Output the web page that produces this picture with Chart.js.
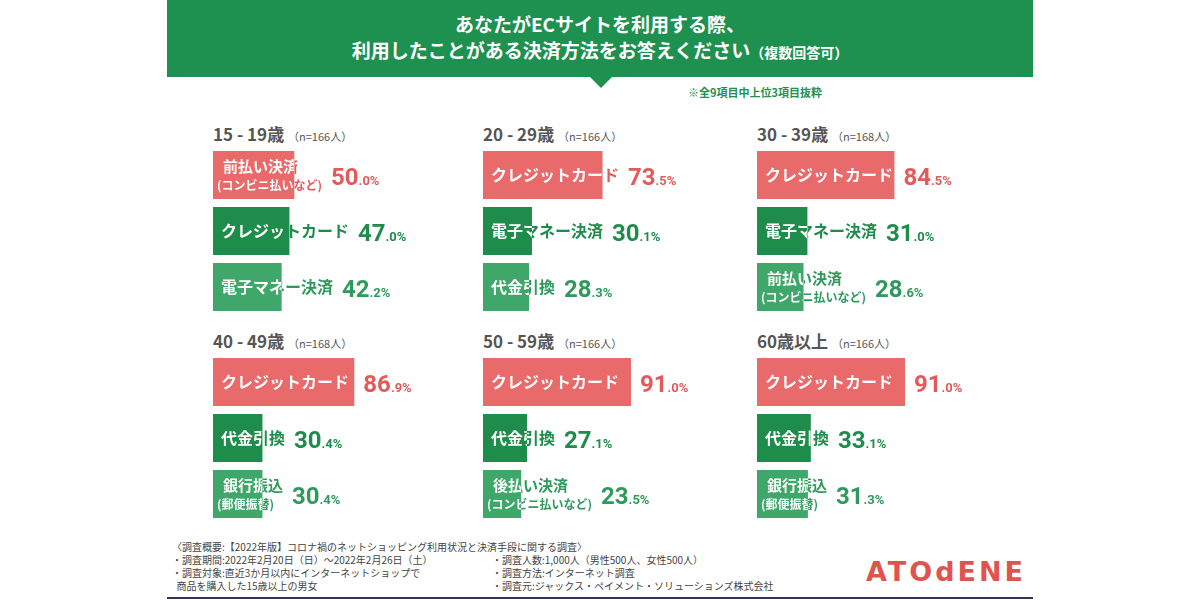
<!DOCTYPE html>
<html><head><meta charset="utf-8">
<script src="https://cdn.jsdelivr.net/npm/chart.js@4/dist/chart.umd.min.js"></script>
<style>
body{margin:0;width:1200px;height:600px;background:#fff;font-family:"Noto Sans CJK JP","Noto Sans",sans-serif;position:relative;overflow:hidden}
.head{position:absolute;left:167px;top:0;width:866px;height:77px;background:#1e9150;color:#fff;text-align:center;font-weight:bold;font-size:19px;line-height:26px;padding-top:11px;box-sizing:border-box}
.head small{font-size:14px}
.tri{position:absolute;left:590px;top:77px;width:0;height:0;border-left:11px solid transparent;border-right:11px solid transparent;border-top:11px solid #1e9150}
.note{position:absolute;left:688px;top:84px;font-size:11px;color:#1e9150;font-weight:bold}
.ttl{position:absolute;font-size:17px;font-weight:bold;color:#555}
.ttl span{font-size:11px;font-weight:normal}
canvas{position:absolute}
.foot{position:absolute;top:540px;font-size:10px;color:#444;line-height:13px}
.logo{position:absolute;left:866px;top:556px;font-size:27px;font-weight:bold;color:#e0544f;letter-spacing:3px;font-family:"DejaVu Sans",sans-serif}
.line{position:absolute;left:167px;top:597px;width:866px;height:2px;background:#33335a}
</style></head><body>
<div class="head">あなたがECサイトを利用する際、<br>利用したことがある決済方法をお答えください<small>（複数回答可）</small></div>
<div class="tri"></div>
<div class="note">※全9項目中上位3項目抜粋</div>
<div class="foot" style="left:172px">〈調査概要:【2022年版】コロナ禍のネットショッピング利用状況と決済手段に関する調査〉<br>・調査期間:2022年2月20日（日）〜2022年2月26日（土）<br>・調査対象:直近3か月以内にインターネットショップで<br>&nbsp;&nbsp;商品を購入した15歳以上の男女</div>
<div class="foot" style="left:492px;top:553px">・調査人数:1,000人（男性500人、女性500人）<br>・調査方法:インターネット調査<br>・調査元:ジャックス・ペイメント・ソリューションズ株式会社</div>
<div class="logo">ATOdENE</div>
<div class="line"></div>
<script>
const panelTitles = ['15 - 19歳', '20 - 29歳', '30 - 39歳', '40 - 49歳', '50 - 59歳', '60歳以上'];
const panelN = ['166', '166', '168', '168', '166', '166'];
const panelLabels = [
  ['前払い決済\n(コンビニ払いなど)', 'クレジットカード', '電子マネー決済'],
  ['クレジットカード', '電子マネー決済', '代金引換'],
  ['クレジットカード', '電子マネー決済', '前払い決済\n(コンビニ払いなど)'],
  ['クレジットカード', '代金引換', '銀行振込\n(郵便振替)'],
  ['クレジットカード', '代金引換', '後払い決済\n(コンビニ払いなど)'],
  ['クレジットカード', '代金引換', '銀行振込\n(郵便振替)']
];
const panelValues = [
  [50.0, 47.0, 42.2],
  [73.5, 30.1, 28.3],
  [84.5, 31.0, 28.6],
  [86.9, 30.4, 30.4],
  [91.0, 27.1, 23.5],
  [91.0, 33.1, 31.3]
];
const barColors = ['#e86a6a', '#1e8c4b', '#3fa76a'];
const textColors = ['#e35a5a', '#1e8c4b', '#2e9a5c'];
const colX = [213, 483, 757];
const rowY = [121, 328];

const labelPlugin = {
  id: 'labels',
  afterDatasetsDraw(chart) {
    const ctx = chart.ctx;
    const meta = chart.getDatasetMeta(0);
    const labels = chart.data.labels;
    const vals = chart.data.datasets[0].data;
    meta.data.forEach((bar, i) => {
      const left = bar.base, right = bar.x, top = bar.y - bar.height / 2, h = bar.height;
      const lines = labels[i].split('\n');
      const drawText = color => {
        ctx.fillStyle = color;
        ctx.textBaseline = 'middle';
        ctx.textAlign = 'left';
        if (lines.length === 1) {
          ctx.font = 'bold 16px "Noto Sans CJK JP"';
          ctx.fillText(lines[0], left + 8, bar.y);
        } else {
          ctx.font = 'bold 15px "Noto Sans CJK JP"';
          ctx.fillText(lines[0], left + 10, bar.y - 9);
          ctx.font = 'bold 12px "Noto Sans CJK JP"';
          ctx.fillText(lines[1], left + 4, bar.y + 10);
        }
      };
      drawText(textColors[i]);
      ctx.save();
      ctx.beginPath();
      ctx.rect(left, top, right - left, h);
      ctx.clip();
      drawText('#fff');
      ctx.restore();
      let tw = 0;
      if (lines.length === 1) {
        ctx.font = 'bold 16px "Noto Sans CJK JP"';
        tw = ctx.measureText(lines[0]).width + 8;
      } else {
        ctx.font = 'bold 15px "Noto Sans CJK JP"';
        const w1 = ctx.measureText(lines[0]).width + 10;
        ctx.font = 'bold 12px "Noto Sans CJK JP"';
        tw = Math.max(w1, ctx.measureText(lines[1]).width + 4);
      }
      let x = Math.max(right, left + tw) + 9;
      const [a, b] = vals[i].toFixed(1).split('.');
      ctx.fillStyle = textColors[i];
      ctx.textBaseline = 'alphabetic';
      ctx.font = 'bold 24px "Roboto"';
      ctx.fillText(a, x, bar.y + 10);
      x += ctx.measureText(a).width;
      ctx.font = 'bold 13px "Roboto"';
      ctx.fillText('.' + b + '%', x, bar.y + 10);
    });
  }
};

panelTitles.forEach((t, p) => {
  const x = colX[p % 3], y = rowY[Math.floor(p / 3)];
  const d = document.createElement('div');
  d.className = 'ttl';
  d.style.left = x + 'px';
  d.style.top = y + 'px';
  d.innerHTML = t + ' <span>（n=' + panelN[p] + '人）</span>';
  document.body.appendChild(d);
  const c = document.createElement('canvas');
  c.style.left = x + 'px';
  c.style.top = (y + 26) + 'px';
  c.style.width = '270px';
  c.style.height = '168px';
  document.body.appendChild(c);
  new Chart(c, {
    type: 'bar',
    data: { labels: panelLabels[p], datasets: [{ data: panelValues[p], backgroundColor: barColors, categoryPercentage: 1, barPercentage: 0.86 }] },
    options: {
      indexAxis: 'y', responsive: false, animation: false,
      layout: { padding: 0 },
      plugins: { legend: { display: false }, tooltip: { enabled: false } },
      scales: { x: { display: false, min: 0, max: 166 }, y: { display: false } }
    },
    plugins: [labelPlugin]
  });
});
</script>
</body></html>
